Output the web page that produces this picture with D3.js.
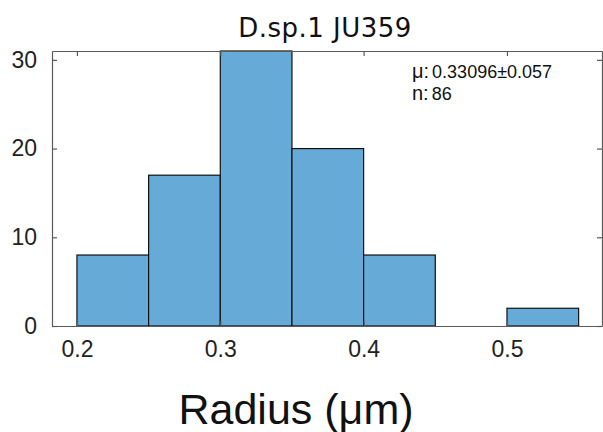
<!DOCTYPE html>
<html>
<head>
<meta charset="utf-8">
<script src="https://cdn.jsdelivr.net/npm/d3@7"></script>
<style>
  body { margin: 0; background: #fff; }
  svg { display: block; }
</style>
</head>
<body>
<div id="chart"><svg></svg></div>
<script>
'use strict';

// histogram bins (edges) and counts
var binStarts = [0.20, 0.25, 0.30, 0.35, 0.40, 0.45, 0.50];
var binWidth = 0.05;
var counts = [8, 17, 31, 20, 8, 0, 2];
var xTicks = [0.2, 0.3, 0.4, 0.5];
var yTicks = [0, 10, 20, 30];
var xLimits = [0.1826, 0.5663];
var yLimits = [0, 31];
var titleText = 'D.sp.1 JU359';
var xLabel = 'Radius (\u03bcm)';
var statLines = [['\u03bc:', '0.33096\u00b10.057'], ['n:', '86']];

var width = 603, height = 432;
var margins = { top: 51, right: 1, bottom: 106, left: 52 };
var chartW = width - margins.left - margins.right;
var chartH = height - margins.top - margins.bottom;

var svg = d3.select('svg').attr('width', width).attr('height', height);
var g = svg.append('g').attr('transform', 'translate(' + margins.left + ',' + margins.top + ')');

var x = d3.scaleLinear().domain(xLimits).range([0, chartW]);
var y = d3.scaleLinear().domain(yLimits).range([chartH, 0]);

// bars
g.selectAll('rect.bar').data(counts).enter().append('rect')
  .attr('class', 'bar')
  .attr('x', function (d, i) { return x(binStarts[i]); })
  .attr('width', function (d, i) { return x(binStarts[i] + binWidth) - x(binStarts[i]); })
  .attr('y', function (d) { return y(d); })
  .attr('height', function (d) { return y(0) - y(d); })
  .style('fill', '#66aad7')
  .style('stroke', '#111')
  .style('stroke-width', 1.2);

// axes box with inward ticks
var axisColor = '#5a5a5a';
var fontTick = 'Liberation Sans, Arial, sans-serif';

var xBottom = g.append('g').attr('transform', 'translate(0,' + chartH + ')')
  .call(d3.axisBottom(x).tickValues(xTicks).tickSizeInner(-5).tickSizeOuter(0).tickPadding(15)
    .tickFormat(d3.format('.1f')));
var xTop = g.append('g')
  .call(d3.axisTop(x).tickValues(xTicks).tickSizeInner(-5).tickSizeOuter(0).tickFormat(''));
var yLeft = g.append('g')
  .call(d3.axisLeft(y).tickValues(yTicks).tickSizeInner(-5).tickSizeOuter(0).tickPadding(15));
var yRight = g.append('g').attr('transform', 'translate(' + chartW + ',0)')
  .call(d3.axisRight(y).tickValues(yTicks).tickSizeInner(-5).tickSizeOuter(0).tickFormat(''));

[xBottom, xTop, yLeft, yRight].forEach(function (a) {
  a.selectAll('path.domain').style('stroke', axisColor).style('stroke-width', 1.2);
  a.selectAll('line').style('stroke', axisColor).style('stroke-width', 1.2);
  a.selectAll('text').style('fill', '#222').style('font-family', fontTick).style('font-size', '23px');
});

// title
svg.append('text')
  .attr('x', 325)
  .attr('y', 37)
  .attr('text-anchor', 'middle')
  .style('font-family', 'DejaVu Sans, sans-serif')
  .style('font-size', '26px')
  .style('letter-spacing', '0.5px')
  .style('fill', '#111')
  .text(titleText);

// x label
svg.append('text')
  .attr('x', 296)
  .attr('y', 424)
  .attr('text-anchor', 'middle')
  .style('font-family', fontTick)
  .style('font-size', '43px')
  .style('fill', '#111')
  .text(xLabel);

// stats annotation
var stats = svg.append('g').attr('transform', 'translate(412,78)');
statLines.forEach(function (s, i) {
  var t = stats.append('text').attr('y', i * 22)
    .style('font-family', fontTick).style('fill', '#111');
  t.append('tspan').style('font-size', '20px').text(s[0]);
  t.append('tspan').attr('dx', 3).style('font-size', '18px').text(s[1]);
});
</script>
</body>
</html>
